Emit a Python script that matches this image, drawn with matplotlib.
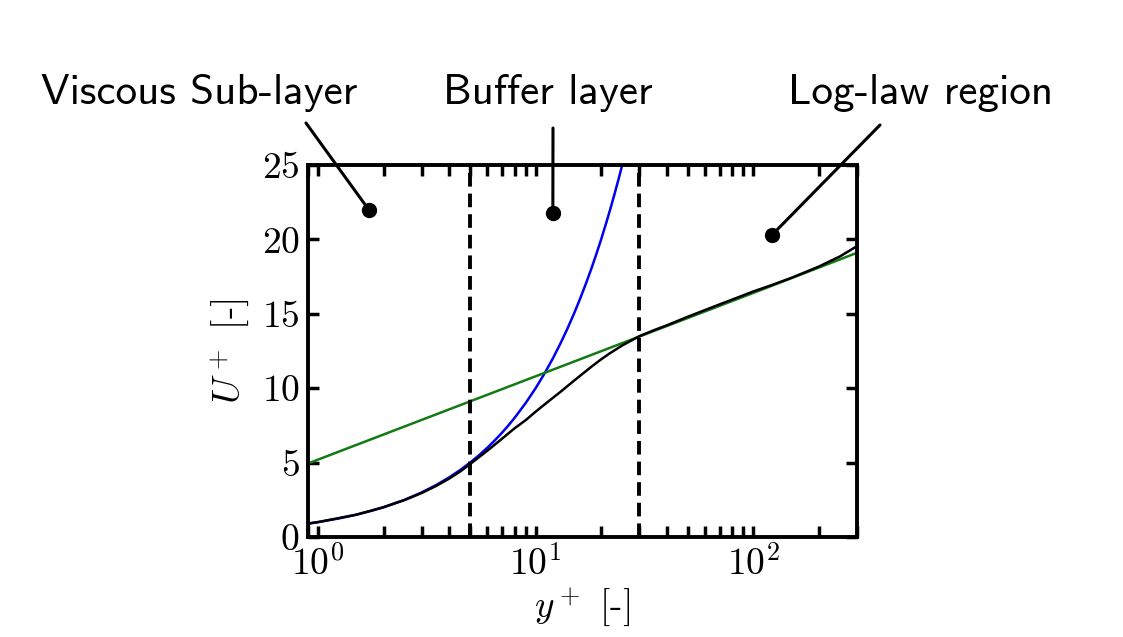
import matplotlib.pyplot as plt
import numpy as np

plt.rcParams['font.family'] = 'cmr10'
plt.rcParams['mathtext.fontset'] = 'cm'
plt.rcParams['axes.formatter.use_mathtext'] = True

# blended wall profile (black)
y_wall = [0.9, 1, 1.5, 2, 2.5, 3, 3.5, 4, 4.5, 5, 6, 6.74, 8, 9, 10, 11,
          12, 13, 14, 15, 16, 18, 20, 22, 25, 30, 35, 40, 50, 60, 70, 85,
          100, 120, 150, 200, 250, 300]
u_wall = [0.9, 1.0, 1.5, 2.0, 2.48, 2.96, 3.44, 3.92, 4.4, 4.9, 5.8, 6.4,
          7.3, 7.85, 8.42, 8.91, 9.35, 9.75, 10.14, 10.5, 10.83, 11.43,
          11.94, 12.36, 12.87, 13.5, 13.9, 14.22, 14.8, 15.25, 15.63,
          16.1, 16.5, 16.9, 17.42, 18.17, 18.85, 19.55]

# viscous sub-layer U+ = y+ (blue)
y_visc = [0.9, 1, 1.25, 1.5, 1.75, 2, 2.5, 3, 3.5, 4, 4.5, 5, 5.5, 6, 6.5,
          7, 7.5, 8, 9, 10, 11, 12, 13, 14, 15, 16, 17, 18, 19, 20, 21, 22,
          23, 24, 25]
u_visc = [0.9, 1, 1.25, 1.5, 1.75, 2, 2.5, 3, 3.5, 4, 4.5, 5, 5.5, 6, 6.5,
          7, 7.5, 8, 9, 10, 11, 12, 13, 14, 15, 16, 17, 18, 19, 20, 21, 22,
          23, 24, 25]

# log law (green)
y_log = [0.9, 1, 10, 100, 300]
u_log = [4.94, 5.2, 10.8, 16.4, 19.1]

layer_edges = [5, 30]

labels = ['Viscous Sub-layer', 'Buffer layer', 'Log-law region']
dots_x = [1.71, 12.0, 122.0]
dots_u = [22.0, 21.8, 20.3]
label_x = [199, 548, 921]          # figure pixels
line_ends = [(306, 123), (553, 128), (880, 125)]

fig = plt.figure(figsize=(11.23, 6.37), dpi=100)
ax = fig.add_axes([0.2743, 0.157, 0.4889, 0.584])

ax.semilogx(y_visc, u_visc, color='#0000ee', lw=1.8)
ax.semilogx(y_log, u_log, color='#137a13', lw=1.8)
ax.semilogx(y_wall, u_wall, color='black', lw=1.8)
for xe in layer_edges:
    ax.axvline(xe, color='black', lw=2.8, ls=(0, (3.5, 1.8)))

ax.set_xlim(0.9, 300)
ax.set_ylim(0, 25)
ax.set_yticks([0, 5, 10, 15, 20, 25])

for s in ax.spines.values():
    s.set_linewidth(2.8)
ax.tick_params(which='both', direction='in', top=True, right=True,
               labelsize=27, width=2.5)
ax.tick_params(which='major', length=8, pad=6)
ax.tick_params(which='minor', length=8)

ax.set_xlabel(r'$y^+$ [-]', fontsize=27, labelpad=2)
ax.set_ylabel(r'$U^+$ [-]', fontsize=27, labelpad=8)

H = 637
for lab, dx, du, lx, (ex, ey) in zip(labels, dots_x, dots_u, label_x, line_ends):
    ax.plot(dx, du, 'o', color='black', ms=10, clip_on=False, zorder=5)
    ax.annotate('', xy=(dx, du), xycoords='data',
                xytext=(ex, H - ey), textcoords='figure pixels',
                arrowprops=dict(arrowstyle='-', lw=2.2, color='black',
                                shrinkA=0, shrinkB=0))
    fig.text(lx, H - 93, lab, transform=None, ha='center', va='center',
             family='cmss10', fontsize=31)

fig.savefig('out.png', dpi=100)
